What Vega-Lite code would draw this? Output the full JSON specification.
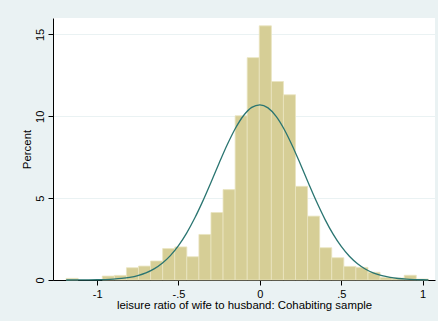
{
  "$schema": "https://vega.github.io/schema/vega-lite/v6.json",
  "width": 382,
  "height": 262,
  "autosize": {"type": "none"},
  "padding": {"left": 53, "top": 18, "right": 3, "bottom": 41},
  "background": "#EAF2F3",
  "config": {
    "view": {"stroke": null, "fill": "#FFFFFF"},
    "font": "Liberation Sans",
    "axis": {
      "domainColor": "#000000",
      "tickColor": "#000000",
      "labelColor": "#000000",
      "titleColor": "#000000",
      "labelFont": "Liberation Sans",
      "titleFont": "Liberation Sans",
      "titleFontWeight": "normal",
      "labelFontSize": 11,
      "titleFontSize": 11.4,
      "tickSize": 5,
      "gridColor": "#EAF2F3",
      "gridWidth": 1
    }
  },
  "datasets": {
    "bins": [
      {"start": -1.1908, "end": -1.1166, "pct": 0.1},
      {"start": -0.9682, "end": -0.894, "pct": 0.24},
      {"start": -0.894, "end": -0.8198, "pct": 0.28},
      {"start": -0.8198, "end": -0.7456, "pct": 0.75},
      {"start": -0.7456, "end": -0.6714, "pct": 0.85},
      {"start": -0.6714, "end": -0.5972, "pct": 1.16},
      {"start": -0.5972, "end": -0.523, "pct": 1.92},
      {"start": -0.523, "end": -0.4488, "pct": 2.02},
      {"start": -0.4488, "end": -0.3746, "pct": 1.42},
      {"start": -0.3746, "end": -0.3004, "pct": 2.78},
      {"start": -0.3004, "end": -0.2262, "pct": 4.12},
      {"start": -0.2262, "end": -0.152, "pct": 5.52},
      {"start": -0.152, "end": -0.0778, "pct": 10.03},
      {"start": -0.0778, "end": -0.0036, "pct": 13.58},
      {"start": -0.0036, "end": 0.0706, "pct": 15.52},
      {"start": 0.0706, "end": 0.1448, "pct": 12.12},
      {"start": 0.1448, "end": 0.219, "pct": 11.31},
      {"start": 0.219, "end": 0.2932, "pct": 5.72},
      {"start": 0.2932, "end": 0.3674, "pct": 3.9},
      {"start": 0.3674, "end": 0.4416, "pct": 1.97},
      {"start": 0.4416, "end": 0.5158, "pct": 1.36},
      {"start": 0.5158, "end": 0.59, "pct": 0.83},
      {"start": 0.59, "end": 0.6642, "pct": 0.77},
      {"start": 0.6642, "end": 0.7384, "pct": 0.47},
      {"start": 0.7384, "end": 0.8126, "pct": 0.16},
      {"start": 0.8126, "end": 0.8868, "pct": 0.12},
      {"start": 0.8868, "end": 0.961, "pct": 0.29},
      {"start": 0.961, "end": 1.0352, "pct": 0.06}
    ],
    "curve": [
      {"x": -1.19, "y": 0.001}, {"x": -1.15, "y": 0.002}, {"x": -1.1, "y": 0.004},
      {"x": -1.05, "y": 0.008}, {"x": -1.0, "y": 0.015}, {"x": -0.95, "y": 0.029},
      {"x": -0.9, "y": 0.054}, {"x": -0.85, "y": 0.095}, {"x": -0.8, "y": 0.164},
      {"x": -0.75, "y": 0.272}, {"x": -0.7, "y": 0.437}, {"x": -0.65, "y": 0.68},
      {"x": -0.6, "y": 1.023}, {"x": -0.55, "y": 1.49}, {"x": -0.5, "y": 2.101},
      {"x": -0.45, "y": 2.866}, {"x": -0.4, "y": 3.783}, {"x": -0.35, "y": 4.832},
      {"x": -0.3, "y": 5.974}, {"x": -0.25, "y": 7.145}, {"x": -0.2, "y": 8.272},
      {"x": -0.15, "y": 9.267}, {"x": -0.1, "y": 10.046}, {"x": -0.05, "y": 10.54},
      {"x": 0.0, "y": 10.7}, {"x": 0.05, "y": 10.512}, {"x": 0.1, "y": 9.994},
      {"x": 0.15, "y": 9.194}, {"x": 0.2, "y": 8.186}, {"x": 0.25, "y": 7.053},
      {"x": 0.3, "y": 5.881}, {"x": 0.35, "y": 4.744}, {"x": 0.4, "y": 3.704},
      {"x": 0.45, "y": 2.799}, {"x": 0.5, "y": 2.047}, {"x": 0.55, "y": 1.448},
      {"x": 0.6, "y": 0.992}, {"x": 0.65, "y": 0.657}, {"x": 0.7, "y": 0.421},
      {"x": 0.75, "y": 0.261}, {"x": 0.8, "y": 0.157}, {"x": 0.85, "y": 0.091},
      {"x": 0.9, "y": 0.051}, {"x": 0.95, "y": 0.028}, {"x": 1.0, "y": 0.015},
      {"x": 1.035, "y": 0.009}
    ]
  },
  "layer": [
    {
      "data": {"name": "bins"},
      "mark": {"type": "rect", "fill": "#D6CE96", "stroke": "#EAE5C0", "strokeWidth": 0.8},
      "encoding": {
        "x": {
          "field": "start", "type": "quantitative",
          "scale": {"domain": [-1.271, 1.076], "nice": false, "zero": false},
          "axis": {
            "values": [-1, -0.5, 0, 0.5, 1],
            "labelExpr": "datum.value == -1 ? '-1' : datum.value == -0.5 ? '-.5' : datum.value == 0 ? '0' : datum.value == 0.5 ? '.5' : '1'",
            "grid": false,
            "title": "leisure ratio of wife to husband: Cohabiting sample",
            "labelPadding": 3,
            "titlePadding": 0,
            "labelFlush": false
          }
        },
        "x2": {"field": "end"},
        "y": {
          "field": "pct", "type": "quantitative",
          "scale": {"domain": [0, 16], "nice": false},
          "axis": {
            "values": [0, 5, 10, 15],
            "grid": true,
            "labelAngle": -90,
            "labelAlign": "center",
            "labelBaseline": "bottom",
            "labelPadding": 3,
            "title": "Percent",
            "titlePadding": 2,
            "labelFlush": false
          }
        },
        "y2": {"datum": 0}
      }
    },
    {
      "data": {"name": "curve"},
      "mark": {"type": "line", "color": "#2A7571", "strokeWidth": 1.3, "interpolate": "monotone"},
      "encoding": {
        "x": {"field": "x", "type": "quantitative"},
        "y": {"field": "y", "type": "quantitative"}
      }
    }
  ]
}
